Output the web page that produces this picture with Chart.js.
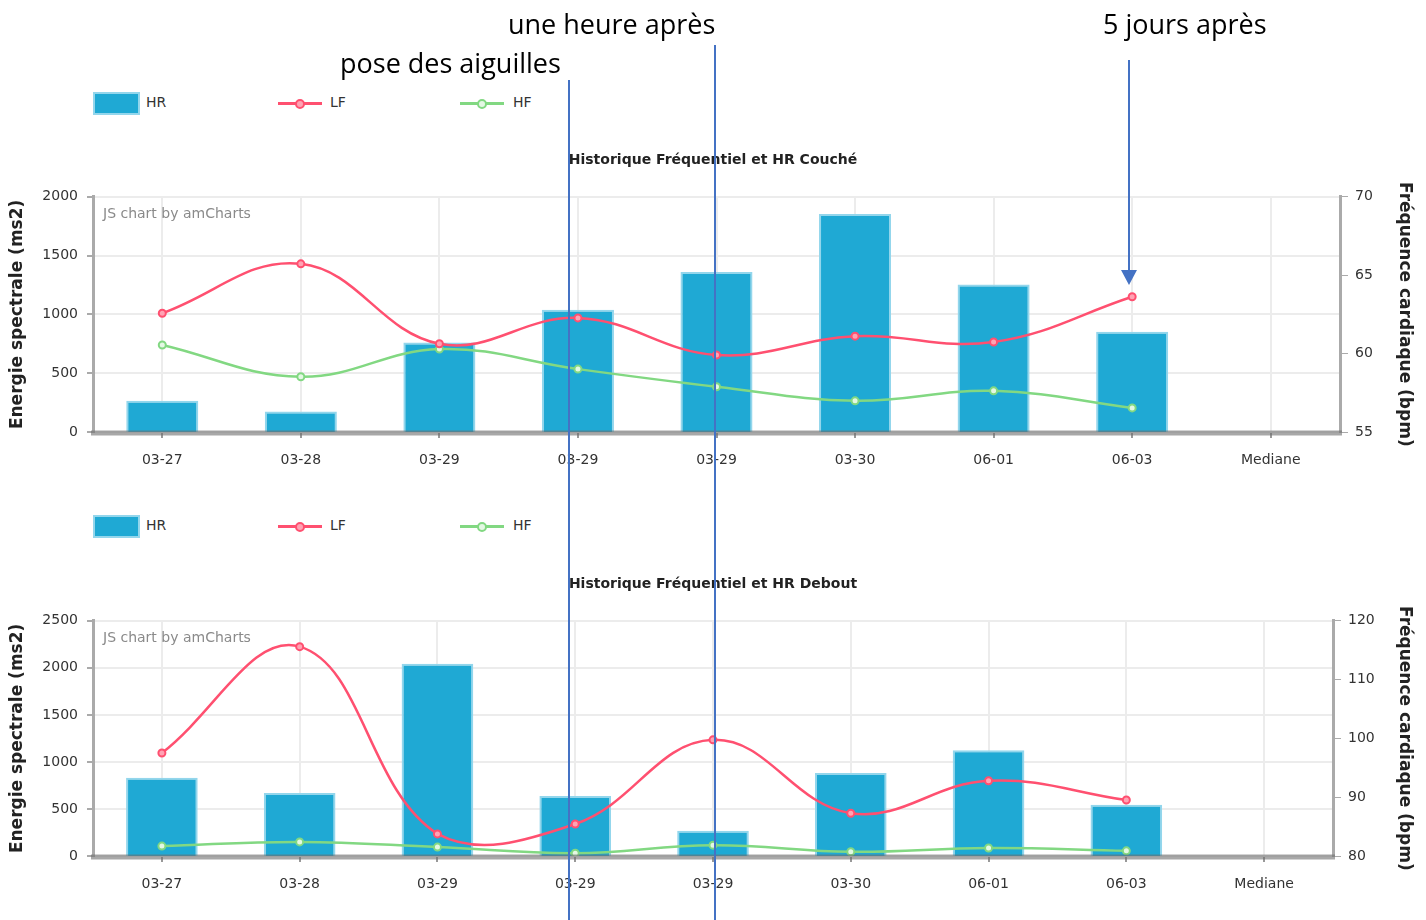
<!DOCTYPE html>
<html>
<head>
<meta charset="utf-8">
<script src="https://cdn.jsdelivr.net/npm/chart.js@4.4.0/dist/chart.umd.min.js"></script>
<style>
  html, body { margin: 0; padding: 0; background: #fff; }
  #page { position: relative; width: 1426px; height: 920px; overflow: hidden; background: #fff; }
  canvas { position: absolute; left: 0; }
  .lg { position: absolute; font: 14px "DejaVu Sans", sans-serif; color: #333; }
  .sw-bar { position: absolute; width: 43px; height: 19px; background: #1fa9d4; border: 2px solid #93d6ec; }
  .sw-line { position: absolute; width: 44px; height: 3px; }
  .sw-dot { position: absolute; width: 6px; height: 6px; border-radius: 50%; border: 2px solid; }
  #notes { position: absolute; left: 0; top: 0; }
</style>
</head>
<body>
<div id="page">
  <canvas id="chart-couche" width="1426" height="340" style="top:140px"></canvas>
  <canvas id="chart-debout" width="1426" height="340" style="top:564px"></canvas>
  <svg id="notes" width="1426" height="920">
    <g font-family="Open Sans" font-size="27" fill="#000">
      <text x="508" y="34">une heure après</text>
      <text x="340" y="73">pose des aiguilles</text>
      <text x="1103" y="34">5 jours après</text>
    </g>
    <g stroke="#4472c4" stroke-width="2">
      <line x1="569" y1="80" x2="569" y2="920"></line>
      <line x1="715" y1="45" x2="715" y2="920"></line>
      <line x1="1129" y1="60" x2="1129" y2="272"></line>
    </g>
    <polygon points="1121,270 1137,270 1129,285" fill="#4472c4"></polygon>
  </svg>
</div>
<script>
// ==== DATA ====
var categories = ['03-27', '03-28', '03-29', '03-29', '03-29', '03-30', '06-01', '06-03', 'Mediane'];

var coucheHR = [57.0, 56.3, 60.7, 62.8, 65.2, 68.9, 64.4, 61.4, null];
var coucheLF = [1010, 1430, 750, 970, 655, 815, 765, 1150, null];
var coucheHF = [740, 470, 705, 535, 385, 265, 350, 205, null];

var deboutHR = [93.3, 90.7, 112.7, 90.2, 84.3, 94.1, 98.0, 88.7, null];
var deboutLF = [1095, 2225, 235, 340, 1235, 455, 800, 595, null];
var deboutHF = [105, 150, 95, 30, 115, 45, 85, 55, null];

var legendNames = ['HR', 'LF', 'HF'];

var FONT = '"DejaVu Sans", sans-serif';
var BLUE = '#1fa9d4', RED = '#ff5070', GREEN = '#82d882';

// ==== PLUGIN: axis line over bars + watermark ====
var extras = {
  id: 'extras',
  beforeDatasetsDraw: function (chart) {
    var a = chart.chartArea, ctx = chart.ctx;
    ctx.save();
    ctx.font = '14px ' + FONT;
    ctx.fillStyle = '#8a8a8a';
    ctx.textBaseline = 'middle';
    ctx.fillText('JS chart by amCharts', a.left + 10, a.top + 18);
    ctx.restore();
  },
  afterDatasetsDraw: function (chart) {
    var a = chart.chartArea, ctx = chart.ctx;
    ctx.save();
    ctx.strokeStyle = 'rgba(110,110,110,0.6)';
    ctx.lineWidth = 5;
    ctx.beginPath();
    ctx.moveTo(a.left - 2, a.bottom + 1);
    ctx.lineTo(a.right + 2, a.bottom + 1);
    ctx.stroke();
    ctx.restore();
  }
};

function plain(v) { return String(v); }

function makeChart(id, title, hr, lf, hf, leftMax, rMin, rMax, rStep, rightWidth) {
  return new Chart(document.getElementById(id).getContext('2d'), {
    type: 'bar',
    data: {
      labels: categories,
      datasets: [
        { type: 'line', label: legendNames[1], data: lf, yAxisID: 'y', order: 1,
          borderColor: RED, borderWidth: 2.5, tension: 0.4, pointRadius: 3.5, pointBorderWidth: 2,
          pointBackgroundColor: '#ffa3b4', pointBorderColor: RED },
        { type: 'line', label: legendNames[2], data: hf, yAxisID: 'y', order: 2,
          borderColor: GREEN, borderWidth: 2.5, tension: 0.4, pointRadius: 3.5, pointBorderWidth: 2,
          pointBackgroundColor: '#e4f8e4', pointBorderColor: GREEN },
        { type: 'bar', label: legendNames[0], data: hr, yAxisID: 'y1', order: 3,
          backgroundColor: BLUE, borderColor: '#93d6ec', borderWidth: 2, borderSkipped: false,
          categoryPercentage: 1, barPercentage: 0.52 }
      ]
    },
    options: {
      responsive: false, animation: false, devicePixelRatio: 1,
      layout: { padding: 0 },
      plugins: {
        legend: { display: false }, tooltip: { enabled: false },
        title: { display: true, text: title, color: '#222', font: { family: FONT, size: 14, weight: 'bold' }, padding: { top: 12, bottom: 28 } }
      },
      scales: {
        x: {
          offset: true,
          grid: { offset: false, color: '#ececec', lineWidth: 2, tickLength: 6, tickColor: '#999' },
          border: { display: false },
          ticks: { color: '#333', font: { family: FONT, size: 14 }, padding: 14, maxRotation: 0, autoSkip: false },
          afterFit: function (s) { s.height = 48; }
        },
        y: {
          position: 'left', min: 0, max: leftMax,
          grid: { color: '#ececec', lineWidth: 2, tickLength: 6, tickColor: '#aaa' },
          border: { color: '#aaa', width: 3 },
          ticks: { stepSize: 500, color: '#333', font: { family: FONT, size: 14 }, padding: 9, callback: plain },
          title: { display: true, text: 'Energie spectrale (ms2)', color: '#222', font: { family: FONT, size: 17, weight: 'bold' }, padding: { top: 7, bottom: 0 } },
          afterFit: function (s) { s.width = 93; }
        },
        y1: {
          position: 'right', min: rMin, max: rMax,
          grid: { drawOnChartArea: false, tickLength: 8, tickColor: '#aaa' },
          border: { color: '#aaa', width: 3 },
          ticks: { stepSize: rStep, color: '#333', font: { family: FONT, size: 14 }, padding: 7, callback: plain },
          title: { display: true, text: 'Fréquence cardiaque (bpm)', color: '#222', font: { family: FONT, size: 17, weight: 'bold' }, padding: { top: 11, bottom: 0 } },
          afterFit: function (s) { s.width = rightWidth; }
        }
      }
    },
    plugins: [extras]
  });
}

// ==== LEGEND (html) ====
function addLegend(top) {
  var page = document.getElementById('page');
  var html = '';
  html += '<div class="sw-bar" style="left:93px;top:' + (top - 11) + 'px"></div>';
  html += '<div class="lg" style="left:146px;top:' + (top - 9) + 'px">' + legendNames[0] + '</div>';
  html += '<div class="sw-line" style="left:278px;top:' + (top - 1) + 'px;background:' + RED + '"></div>';
  html += '<div class="sw-dot" style="left:295px;top:' + (top - 4) + 'px;border-color:' + RED + ';background:#ffa3b4"></div>';
  html += '<div class="lg" style="left:330px;top:' + (top - 9) + 'px">' + legendNames[1] + '</div>';
  html += '<div class="sw-line" style="left:460px;top:' + (top - 1) + 'px;background:' + GREEN + '"></div>';
  html += '<div class="sw-dot" style="left:477px;top:' + (top - 4) + 'px;border-color:' + GREEN + ';background:#e4f8e4"></div>';
  html += '<div class="lg" style="left:513px;top:' + (top - 9) + 'px">' + legendNames[2] + '</div>';
  var box = document.createElement('div');
  box.innerHTML = html;
  page.insertBefore(box, document.getElementById('notes'));
}

addLegend(103);
addLegend(526);

makeChart('chart-couche', 'Historique Fréquentiel et HR Couché', coucheHR, coucheLF, coucheHF, 2000, 55, 70, 5, 86);
makeChart('chart-debout', 'Historique Fréquentiel et HR Debout', deboutHR, deboutLF, deboutHF, 2500, 80, 120, 10, 93);
</script>
</body>
</html>
